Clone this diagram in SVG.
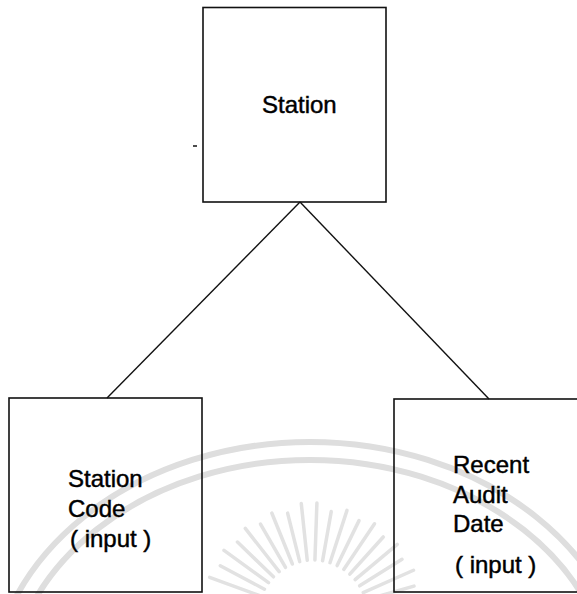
<svg xmlns="http://www.w3.org/2000/svg" width="577" height="594" viewBox="0 0 577 594">
<style>
.box{fill:none;stroke:#111;stroke-width:1.6}
.edge{stroke:#111;stroke-width:1.4;fill:none}
.lbl{font-family:"Liberation Sans",Arial,sans-serif;font-size:24px;fill:#000;stroke:#000;stroke-width:0.45}
.wm{fill:none;stroke:#dedede;stroke-width:6}
.ray{stroke:#e2e2e2;stroke-width:3.5;stroke-linecap:round}
</style>
<rect width="577" height="594" fill="#fff"/>
<g id="watermark">
<ellipse class="wm" cx="310" cy="698" rx="320" ry="256"/>
<ellipse class="wm" cx="310" cy="698" rx="302" ry="238"/>
<g transform="translate(313,615)">
<line class="ray" x1="-55" y1="0" x2="-110" y2="0" transform="rotate(20)"/>
<line class="ray" x1="-55" y1="0" x2="-105" y2="0" transform="rotate(28)"/>
<line class="ray" x1="-55" y1="0" x2="-110" y2="0" transform="rotate(36)"/>
<line class="ray" x1="-55" y1="0" x2="-105" y2="0" transform="rotate(44)"/>
<line class="ray" x1="-55" y1="0" x2="-110" y2="0" transform="rotate(52)"/>
<line class="ray" x1="-55" y1="0" x2="-105" y2="0" transform="rotate(60)"/>
<line class="ray" x1="-55" y1="0" x2="-110" y2="0" transform="rotate(68)"/>
<line class="ray" x1="-55" y1="0" x2="-105" y2="0" transform="rotate(76)"/>
<line class="ray" x1="-55" y1="0" x2="-112" y2="0" transform="rotate(84)"/>
<line class="ray" x1="-55" y1="0" x2="-112" y2="0" transform="rotate(92)"/>
<line class="ray" x1="-55" y1="0" x2="-105" y2="0" transform="rotate(100)"/>
<line class="ray" x1="-55" y1="0" x2="-110" y2="0" transform="rotate(108)"/>
<line class="ray" x1="-55" y1="0" x2="-105" y2="0" transform="rotate(116)"/>
<line class="ray" x1="-55" y1="0" x2="-110" y2="0" transform="rotate(124)"/>
<line class="ray" x1="-55" y1="0" x2="-105" y2="0" transform="rotate(132)"/>
<line class="ray" x1="-55" y1="0" x2="-110" y2="0" transform="rotate(140)"/>
<line class="ray" x1="-55" y1="0" x2="-105" y2="0" transform="rotate(148)"/>
<line class="ray" x1="-55" y1="0" x2="-110" y2="0" transform="rotate(156)"/>
<line class="ray" x1="-55" y1="0" x2="-105" y2="0" transform="rotate(164)"/>
</g>
</g>
<g id="connectors">
<line class="edge" x1="300" y1="202" x2="107" y2="398"/>
<line class="edge" x1="300" y1="202" x2="489" y2="399"/>
</g>
<g id="station">
<rect class="box" x="203" y="7.5" width="183" height="194.5"/>
<text class="lbl" x="262" y="113">Station</text>
<line x1="193" y1="146" x2="197" y2="146" stroke="#111" stroke-width="1.5"/>
</g>
<g id="station-code">
<rect class="box" x="9" y="398" width="193" height="194"/>
<text class="lbl" x="68" y="487">Station</text>
<text class="lbl" x="68" y="517">Code</text>
<text class="lbl" x="70" y="547">( input )</text>
</g>
<g id="recent-audit-date">
<rect class="box" x="394" y="399" width="190" height="193"/>
<text class="lbl" x="453" y="473">Recent</text>
<text class="lbl" x="453" y="503">Audit</text>
<text class="lbl" x="453" y="532">Date</text>
<text class="lbl" x="455" y="573">( input )</text>
</g>
</svg>
